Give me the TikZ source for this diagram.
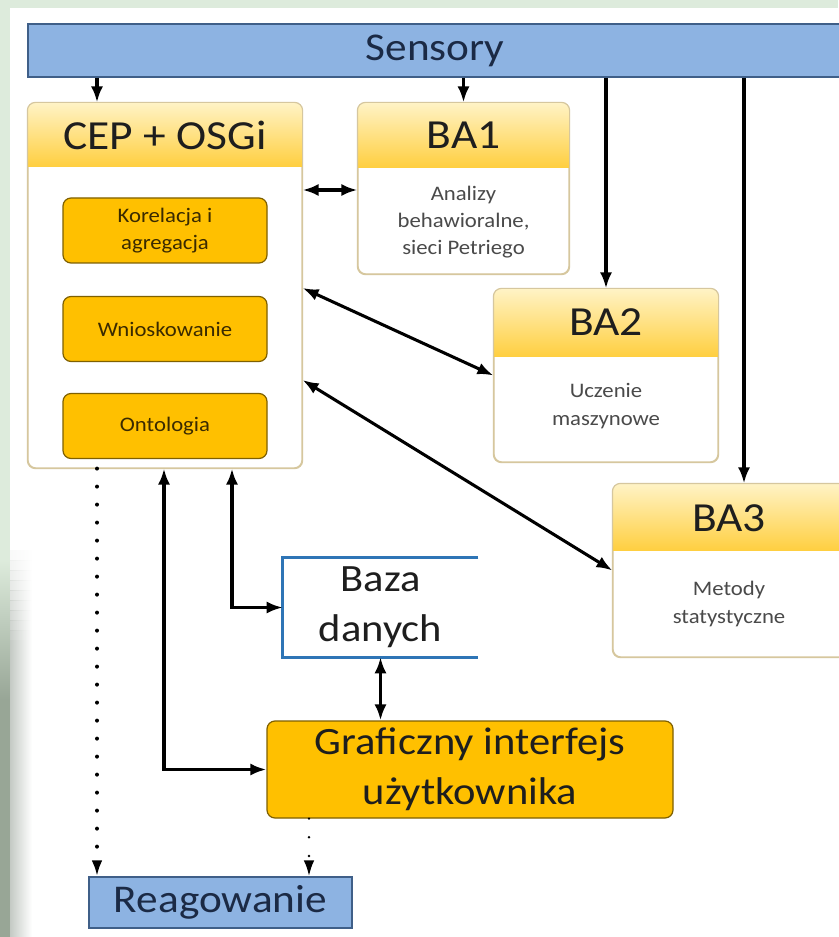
\documentclass[tikz,border=0pt]{standalone}
\usepackage{fontspec}
\setmainfont{Carlito}[FakeStretch=1.1]
\usetikzlibrary{arrows.meta,calc}
\definecolor{bggreen}{HTML}{DDEBDC}
\definecolor{bgdark}{HTML}{98A696}
\definecolor{shadowc}{HTML}{C4CAC4}
\definecolor{sensblue}{HTML}{8DB3E2}
\definecolor{sensline}{HTML}{3F5F88}
\definecolor{senstext}{HTML}{1B2A45}
\definecolor{panelline}{HTML}{D6C79E}
\definecolor{hdrtop}{HTML}{FFF3C6}
\definecolor{hdrbot}{HTML}{FFCF40}
\definecolor{ofill}{HTML}{FFC000}
\definecolor{oline}{HTML}{7F6000}
\definecolor{otext}{HTML}{3A2A00}
\definecolor{ttltext}{HTML}{1E1E1E}
\definecolor{bodytext}{HTML}{4A4A4A}
\definecolor{bazaline}{HTML}{2E75B6}
\newcommand\boxhead[2]{%
  \begin{scope}
    \clip[rounded corners=6pt] (#1.north west) rectangle (#1.south east);
    \shade[top color=hdrtop, bottom color=hdrbot] (#1.north west) rectangle ($(#1.north east)+(0,#2)$);
  \end{scope}
  \draw[panelline, line width=0.9pt, rounded corners=6pt] (#1.north west) rectangle (#1.south east);}
\begin{document}
\begin{tikzpicture}[x=0.75pt,y=-0.75pt,
  sens/.style={draw=sensline, fill=sensblue, line width=0.9pt, inner sep=0pt, text=senstext, font=\fontsize{29.5}{34}\selectfont},
  panel/.style={draw=panelline, fill=white, rounded corners=6pt, line width=0.9pt, inner sep=0pt},
  obox/.style={draw=oline, fill=ofill, rounded corners=6pt, line width=0.9pt, inner sep=0pt, minimum width=153pt, minimum height=48.75pt, text=otext, font=\fontsize{15.5}{20}\selectfont, align=center},
  ttl/.style={text=ttltext, font=\fontsize{31}{36}\selectfont, inner sep=0pt},
  body/.style={text=bodytext, font=\fontsize{15.5}{20.5}\selectfont, align=center, inner sep=0pt},
  big/.style={font=\fontsize{29}{37.5}\selectfont, align=center, text=ttltext, inner sep=0pt},
  arr/.style={line width=2.3pt, -{Latex[length=12pt,width=9pt]}},
  darr/.style={line width=2.3pt, {Latex[length=12pt,width=9pt]}-{Latex[length=12pt,width=9pt]}},
  dotarr/.style={line width=3pt, line cap=round, dash pattern=on 0pt off 13.5pt, -{Latex[length=12pt,width=8pt]}},
  thindot/.style={line width=2pt, line cap=round, dash pattern=on 0pt off 14pt, -{Latex[length=12pt,width=8pt]}},
]
\useasboundingbox (0,0) rectangle (838,937);
% background
\fill[bggreen] (0,0) rectangle (838,937);
\shade[top color=bggreen, bottom color=bgdark] (0,560) rectangle (10,700);
\fill[bgdark] (0,700) rectangle (10,937);
\fill[white] (10,8) rectangle (838,937);
\foreach \i in {1,...,10}{
  \shade[left color=shadowc, right color=white, fill opacity=\i/10] (10,{540+10*\i}) rectangle (32,{550+10*\i});
}
\shade[left color=shadowc, right color=white] (10,650) rectangle (32,937);

% nodes
\node[sens, minimum width=610.5pt, minimum height=39.75pt] (sensory) at (435,50.5) {Sensory};

\node[panel, minimum width=205.5pt, minimum height=273.75pt] (cep) at (165,285.5) {};
\boxhead{cep}{64}
\node[ttl] (ceptitle) at ($(cep.north)+(0,33)$) {CEP + OSGi};
\node[obox] (kor) at (165,230.5) {Korelacja i\\agregacja};
\node[obox] (wni) at (165,329) {Wnioskowanie};
\node[obox] (ont) at (165,426) {Ontologia};

\node[panel, minimum width=158.25pt, minimum height=128.25pt] (ba1) at (463.5,188.5) {};
\boxhead{ba1}{65}
\node[ttl] (ba1title) at ($(ba1.north)+(0,33)$) {BA1};
\node[body] (ba1text) at (463.5,222) {Analizy\\behawioralne,\\sieci Petriego};

\node[panel, minimum width=168pt, minimum height=129.75pt] (ba2) at (606,375.5) {};
\boxhead{ba2}{68}
\node[ttl] (ba2title) at ($(ba2.north)+(0,34)$) {BA2};
\node[body] (ba2text) at (606,406) {Uczenie\\maszynowe};

\node[panel, minimum width=177.75pt, minimum height=129.75pt] (ba3) at (731.5,570.5) {};
\boxhead{ba3}{67}
\node[ttl] (ba3title) at (729,518) {BA3};
\node[body] (ba3text) at (729,604) {Metody\\statystyczne};

\node[big, minimum width=146.25pt, minimum height=74.25pt] (baza) at (380.5,607.5) {Baza\\danych};
\draw[bazaline, line width=2.2pt] (baza.north east) -- (baza.north west) -- (baza.south west) -- (baza.south east);

\node[obox, big, minimum width=304.5pt, minimum height=72.75pt] (gui) at (470,769.5) {Graficzny interfejs\\użytkownika};

\node[sens, minimum width=197.25pt, minimum height=38.25pt] (reag) at (220.5,902.5) {Reagowanie};

% helper coordinates
\coordinate (xa) at (97,0);
\coordinate (xb) at (744,0);
\coordinate (xc) at (164,0);
\coordinate (xd) at (232,0);
\coordinate (xe) at (309,0);
\coordinate (ya) at (0,190);
\coordinate (yb) at (0,288);
\coordinate (yc) at (0,380);

% connectors
\draw[arr] (sensory.south -| xa) -- (cep.north -| xa);
\draw[arr] (sensory.south -| ba1.north) -- (ba1.north);
\draw[arr] (sensory.south -| ba2.north) -- (ba2.north);
\draw[arr] (sensory.south -| xb) -- (ba3.north -| xb);
\draw[darr] (cep.east |- ya) -- (ba1.west |- ya);
\draw[darr] (cep.east |- yb) -- (ba2.west);
\draw[darr] (cep.east |- yc) -- (ba3.west);
\draw[darr] (cep.south -| xc) |- (gui.west);
\draw[darr] (cep.south -| xd) |- (baza.west);
\draw[darr] (baza.south) -- (gui.north -| baza.south);
\draw[dotarr] (cep.south -| xa) -- (reag.north -| xa);
\draw[thindot] (gui.south -| xe) -- (reag.north -| xe);
\end{tikzpicture}
\end{document}
